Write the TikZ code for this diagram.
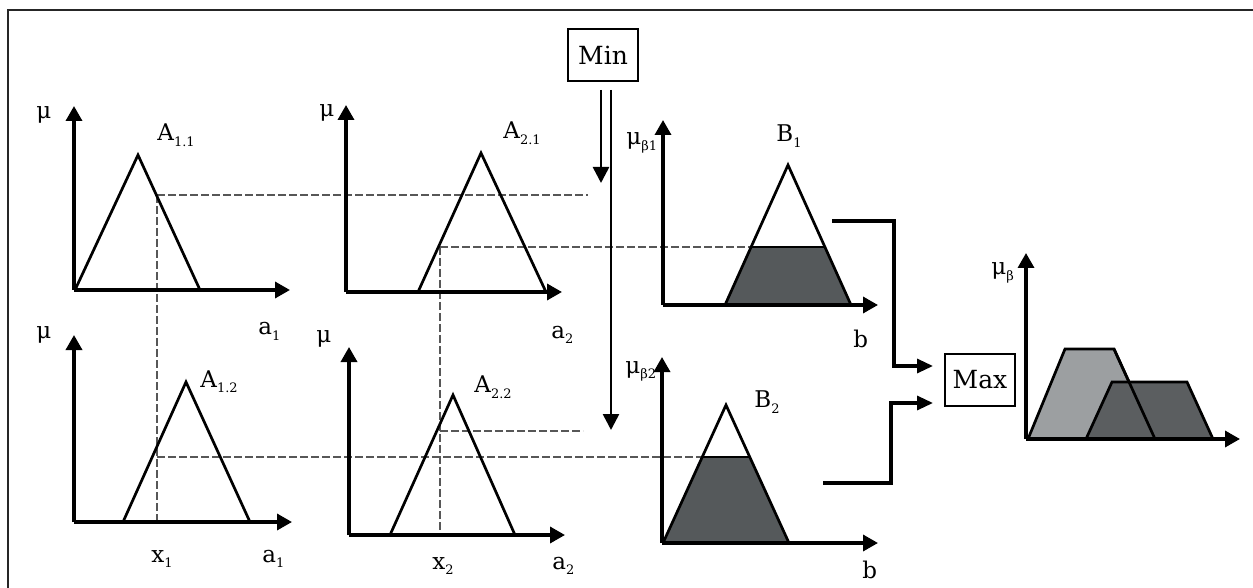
\documentclass[tikz,border=0pt]{standalone}
\usepackage{fontspec}
\setmainfont{DejaVu Serif}
\usetikzlibrary{arrows.meta}
\newcommand{\mylab}[2]{#1\raisebox{-0.5ex}{\fontsize{6.5}{6.5}\selectfont #2}}
\definecolor{bfill}{HTML}{55595B}
\definecolor{lfill}{HTML}{9C9FA1}
\definecolor{dfill}{HTML}{5B5E60}
\definecolor{dshc}{HTML}{575757}
\begin{document}
\begin{tikzpicture}[x=0.5pt,y=-0.5pt,
  ax/.style={line width=1.7pt,-{Triangle[length=7.5pt,width=8pt]}},
  mf/.style={line width=1.35pt,line join=miter},
  dsh/.style={line width=1.3pt,draw=dshc,dash pattern=on 4pt off 1.5pt},
  lbl/.style={inner sep=0pt,anchor=base west,font=\fontsize{11.5}{13}\selectfont},
  opbox/.style={draw,line width=1.4pt,minimum width=35pt,minimum height=26pt,inner sep=0pt,font=\fontsize{12.5}{14}\selectfont},
  conn/.style={line width=1.6pt,-{Triangle[length=8pt,width=7pt]}},
  minarr/.style={line width=1.3pt,-{Triangle[length=8pt,width=8pt]}}]
\useasboundingbox (0,0) rectangle (1253,588);
\draw[line width=1.1pt,black!85] (8,588) -- (8,10) -- (1253,10);

% dashed guide lines
\draw[dsh] (157,195) -- (588,195);
\draw[dsh] (157,195) -- (157,522);
\draw[dsh] (157,457) -- (703,457);
\draw[dsh] (440,247) -- (751,247);
\draw[dsh] (440,247) -- (440,535);
\draw[dsh] (440,431) -- (583,431);

% Panel A1.1
\draw[ax] (74,290) -- (74,106);
\draw[ax] (74,290) -- (290,290);
\draw[mf] (75,290) -- (138,155) -- (200,290);
\node[lbl] (mu11) at (36,119) {μ};
\node[lbl] (A11) at (157,141) {\mylab{A}{1.1}};
\node[lbl] (a11) at (258,335) {\mylab{a}{1}};

% Panel A2.1
\draw[ax] (346,292) -- (346,105);
\draw[ax] (346,292) -- (562,292);
\draw[mf] (418,292) -- (481,153) -- (546,292);
\node[lbl] (mu21) at (319,117) {μ};
\node[lbl] (A21) at (503,139) {\mylab{A}{2.1}};
\node[lbl] (a21) at (551,338) {\mylab{a}{2}};

% Panel A1.2
\draw[ax] (74,522) -- (74,335);
\draw[ax] (74,522) -- (292,522);
\draw[mf] (123,522) -- (186,382) -- (250,522);
\node[lbl] (mu12) at (36,338) {μ};
\node[lbl] (A12) at (200,387) {\mylab{A}{1.2}};
\node[lbl] (x1) at (151,562) {\mylab{x}{1}};
\node[lbl] (a12) at (262,562) {\mylab{a}{1}};

% Panel A2.2
\draw[ax] (349,535) -- (349,347);
\draw[ax] (349,535) -- (565,535);
\draw[mf] (390,535) -- (453,395) -- (515,535);
\node[lbl] (mu22) at (316,343) {μ};
\node[lbl] (A22) at (474,393) {\mylab{A}{2.2}};
\node[lbl] (x2) at (432,569) {\mylab{x}{2}};
\node[lbl] (a22) at (552,569) {\mylab{a}{2}};

% Min
\node[opbox] (min) at (603,55) {Min};
\draw[minarr] (601,90) -- (601,183);
\draw[minarr] (611,90) -- (611,430);

% Panel B1
\fill[bfill] (725,305) -- (751,247) -- (825,247) -- (851,305) -- cycle;
\draw[mf] (751,247) -- (825,247);
\draw[ax] (663,305) -- (663,120);
\draw[ax] (663,305) -- (878,305);
\draw[mf] (725,305) -- (788,165) -- (851,305);
\node[lbl] (mub1) at (626,145) {\mylab{μ}{β1}};
\node[lbl] (B1) at (776,142) {\mylab{B}{1}};
\node[lbl] (b1) at (853,348) {b};

% Panel B2
\fill[bfill] (663,543) -- (702,457) -- (750,457) -- (789,543) -- cycle;
\draw[mf] (702,457) -- (750,457);
\draw[ax] (662,543) -- (662,357);
\draw[ax] (662,543) -- (878,543);
\draw[mf] (663,543) -- (726,405) -- (789,543);
\node[lbl] (mub2) at (625,373) {\mylab{μ}{β2}};
\node[lbl] (B2) at (754,408) {\mylab{B}{2}};
\node[lbl] (b2) at (862,578) {b};

% Max
\node[opbox] (max) at (980,380) {Max};
\coordinate (b1out) at (832,221);
\coordinate (b1c) at (894,221);
\coordinate (m1) at (933,366);
\coordinate (b2out) at (823,483);
\coordinate (b2c) at (891,483);
\coordinate (m2) at (933,403);
\draw[conn] (b1out) -- (b1c) |- (m1);
\draw[conn] (b2out) -- (b2c) |- (m2);

% Output panel
\fill[lfill] (1028,439) -- (1065,349) -- (1114,349) -- (1155,439) -- cycle;
\draw[mf] (1028,439) -- (1065,349) -- (1114,349) -- (1155,439);
\fill[dfill] (1086,439) -- (1112,382) -- (1187,382) -- (1213,439) -- cycle;
\draw[mf] (1086,439) -- (1112,382) -- (1187,382) -- (1213,439);
\draw[mf] (1114,349) -- (1155,439);
\draw[ax] (1026,439) -- (1026,253);
\draw[ax] (1026,439) -- (1240,439);
\node[lbl] (mub) at (991,275) {\mylab{μ}{β}};
\end{tikzpicture}
\end{document}
